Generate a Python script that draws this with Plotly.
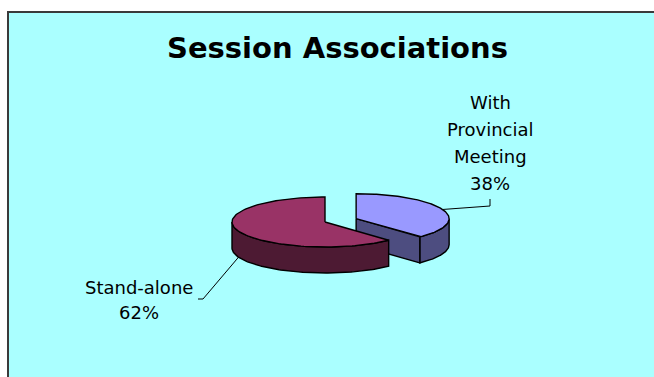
import numpy as np
import plotly.graph_objects as go

# Slice data
labels = ["With Provincial Meeting", "Stand-alone"]
values = [38, 62]
top_colors = ["#9999FF", "#993366"]
side_colors = ["#4D4D80", "#4D1A33"]

# Pie geometry in pixel space (y grows downward)
CX, CY = 325, 222      # centre of the pie
RX, RY = 93, 25        # ellipse radii of the top face
DEPTH = 26             # thickness of the pie
EXPLODE = 0.36         # explode distance of the first slice, fraction of radius
W, H = 654, 377

total = float(sum(values))
# Start at 12 o'clock, first slice runs clockwise, the rest follow it
angles = []
start = 90.0
for v in values:
    sweep = 360.0 * v / total
    angles.append((start - sweep, start))  # (low, high) in degrees
    start -= sweep


def pt(cx, cy, th, dz=0.0):
    r = np.radians(th)
    return cx + RX * np.cos(r), cy - RY * np.sin(r) + dz


def arc(cx, cy, a0, a1, dz=0.0, n=120):
    th = np.linspace(a0, a1, n)
    r = np.radians(th)
    return list(cx + RX * np.cos(r)), list(cy - RY * np.sin(r) + dz)


fig = go.Figure()

# Chart area background
fig.add_shape(type="rect", x0=8, y0=12, x1=W + 10, y1=H + 10,
              xref="x", yref="y", fillcolor="#AAFFFF",
              line=dict(color="#3A3A3A", width=2), layer="below")

OUT = dict(color="black", width=1.4)


def poly(xs, ys, color):
    fig.add_trace(go.Scatter(x=xs + [xs[0]], y=ys + [ys[0]], mode="lines",
                             fill="toself", fillcolor=color, line=OUT,
                             hoverinfo="skip", showlegend=False))


centres = []
for i, (lo, hi) in enumerate(angles):
    mid = np.radians((lo + hi) / 2)
    ex = EXPLODE if i == 0 else 0.0
    cx = CX + ex * RX * np.cos(mid)
    cy = CY - ex * RY * np.sin(mid)
    centres.append((cx, cy))

# Draw back slice first, front slice over it
for i in [0, 1]:
    lo, hi = angles[i]
    cx, cy = centres[i]
    # outer rim: visible where it faces the viewer (angles 180..360)
    for k in (-360, 0, 360):
        a0, a1 = max(lo, 180 + k), min(hi, 360 + k)
        if a1 > a0:
            xt, yt = arc(cx, cy, a0, a1)
            xb, yb = arc(cx, cy, a1, a0, DEPTH)
            poly(xt + xb, yt + yb, side_colors[i])
    # cut face on the low edge of the first slice faces the viewer
    if i == 0:
        px, py = pt(cx, cy, lo)
        poly([cx, px, px, cx], [cy, py, py + DEPTH, cy + DEPTH], side_colors[i])
    xt, yt = arc(cx, cy, lo, hi)
    poly([cx] + xt, [cy] + yt, top_colors[i])

# Leader lines and labels
LBL = dict(family="DejaVu Sans", size=18, color="black")


def label_lines(x, y0, step, lines):
    for j, s in enumerate(lines):
        fig.add_annotation(x=x, y=y0 + j * step, xref="x", yref="y",
                           showarrow=False, text=s, font=LBL)


lo, hi = angles[0]
cx, cy = centres[0]
sx, sy = pt(cx, cy, (lo + hi) / 2)
fig.add_trace(go.Scatter(x=[sx, 490, 490], y=[sy, 206, 199], mode="lines",
                         line=dict(color="black", width=1), hoverinfo="skip",
                         showlegend=False))
label_lines(490, 102, 27, labels[0].replace("With ", "With\n")
            .replace("Provincial ", "Provincial\n").split("\n")
            + [f"{values[0] / total:.0%}"])

lo, hi = angles[1]
cx, cy = centres[1]
sx, sy = pt(cx, cy, (lo + hi) / 2, DEPTH)
fig.add_trace(go.Scatter(x=[sx, 203, 198], y=[sy, 299, 299], mode="lines",
                         line=dict(color="black", width=1), hoverinfo="skip",
                         showlegend=False))
label_lines(139, 287, 25, [labels[1], f"{values[1] / total:.0%}"])

fig.add_annotation(x=337, y=48, xref="x", yref="y", showarrow=False,
                   text="<b>Session Associations</b>",
                   font=dict(family="DejaVu Sans", size=29, color="black"))

fig.update_layout(
    width=W, height=H, margin=dict(l=0, r=0, t=0, b=0),
    paper_bgcolor="white", plot_bgcolor="white",
    xaxis=dict(range=[0, W], visible=False, fixedrange=True),
    yaxis=dict(range=[H, 0], visible=False, fixedrange=True),
)
fig.write_html("out.html")
